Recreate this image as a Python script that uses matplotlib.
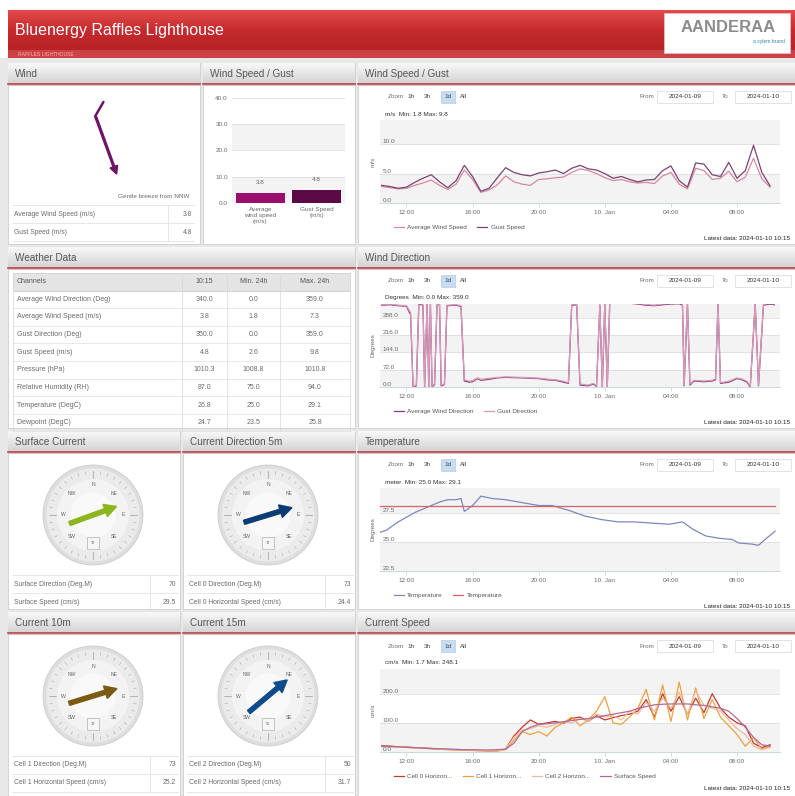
import numpy as np
import matplotlib
matplotlib.use('Agg')
import matplotlib.pyplot as plt
from matplotlib.patches import Rectangle, Circle, FancyArrow
from matplotlib.colors import LinearSegmentedColormap

plt.rcParams['font.family'] = ['Liberation Sans', 'DejaVu Sans']

W, H = 795, 796

# ---------------- data ----------------
# hours counted from 2024-01-09 00:00
half_hours = np.arange(10.5, 34.01, 0.5)

avg_wind_speed = [2.8, 2.6, 2.4, 2.5, 3.0, 3.4, 3.9, 3.0, 2.3, 3.2, 5.6, 4.0,
                  1.8, 2.2, 3.1, 4.6, 3.6, 3.2, 3.0, 4.0, 4.1, 4.3, 4.4, 5.2,
                  5.8, 5.5, 5.0, 4.3, 3.8, 4.0, 3.6, 3.4, 3.5, 3.3, 4.6, 5.2,
                  3.2, 2.4, 5.9, 5.5, 4.0, 4.2, 5.4, 3.6, 4.4, 7.6, 4.1, 2.7]
gust_speed = [3.0, 2.8, 2.5, 2.7, 3.5, 4.2, 4.8, 3.6, 2.6, 3.8, 6.4, 4.5,
              2.0, 2.5, 4.3, 6.0, 5.2, 4.8, 4.6, 5.1, 5.3, 5.6, 5.0, 5.9,
              6.4, 5.8, 5.6, 5.0, 4.2, 4.5, 4.0, 3.6, 3.9, 4.0, 5.5, 6.3,
              3.8, 2.7, 6.8, 6.6, 4.8, 4.5, 6.9, 4.2, 5.5, 9.8, 5.2, 2.9]

dir_time = [10.5, 11.0, 11.5, 12.0, 12.25, 12.4, 12.6, 12.75, 13.0, 13.1, 13.25,
            13.35, 13.45, 13.55, 13.7, 13.85, 14.0, 14.1, 14.3, 14.45, 15.0, 15.3,
            15.5, 15.8, 16.0, 16.3, 16.5, 17.0, 17.5, 18.0, 19.0, 20.0, 20.5, 21.0,
            21.5, 21.8, 22.0, 22.3, 22.5, 23.0, 23.3, 23.5, 23.7, 23.85, 24.0, 24.15,
            24.3, 24.5, 25.0, 25.5, 26.0, 26.5, 27.0, 27.5, 28.0, 28.5, 28.7, 28.8,
            29.0, 29.15, 29.4, 30.0, 30.5, 30.7, 30.85, 31.0, 31.5, 32.0, 32.3, 32.6,
            32.8, 33.1, 33.3, 33.6, 34.0, 34.25]
avg_wind_dir = [340, 342, 338, 336, 300, 0, 5, 345, 340, 0, 350,
                0, 345, 0, 10, 340, 345, 5, 10, 338, 340, 335,
                25, 20, 22, 35, 28, 32, 38, 40, 38, 35, 30, 28,
                20, 15, 340, 342, 8, 5, 12, 3, 340, 0, 345, 0,
                350, 348, 352, 348, 345, 340, 338, 342, 345, 346, 340, 5,
                348, 8, 25, 22, 25, 30, 345, 15, 20, 35, 30, 20,
                0, 345, 5, 340, 345, 342]
gust_dir = [342, 345, 340, 338, 310, 2, 8, 350, 342, 3, 352,
            2, 348, 3, 14, 342, 348, 8, 12, 340, 342, 338,
            30, 24, 26, 38, 32, 36, 40, 42, 40, 37, 33, 30,
            24, 18, 344, 345, 12, 8, 15, 6, 344, 3, 348, 2,
            352, 350, 355, 350, 348, 343, 340, 345, 348, 350, 344, 8,
            352, 12, 28, 25, 28, 34, 348, 18, 24, 38, 33, 24,
            3, 350, 8, 344, 348, 346]

temp_time = [10.4, 10.8, 11.5, 12.5, 13.5, 14.0, 14.5, 15.0, 15.3, 15.5, 15.8, 16.0,
             16.5, 17.2, 18.0, 18.4, 19.2, 20.0, 20.8, 21.8, 22.8, 23.8, 24.8, 25.8,
             26.8, 27.9, 28.7, 29.3, 30.1, 30.9, 31.7, 32.1, 32.9, 33.3, 33.7, 34.3]
temperature = [25.8, 26.0, 26.7, 27.5, 28.1, 28.4, 28.6, 28.6, 28.7, 27.6, 27.9, 28.1,
               28.9, 28.7, 28.6, 28.5, 28.3, 28.1, 28.1, 27.7, 27.2, 26.9, 26.7, 26.7,
               26.6, 26.5, 26.7, 26.1, 25.5, 25.3, 25.2, 24.9, 24.8, 24.7, 25.2, 25.9]
temp_ref_time = [10.4, 34.3]
temp_ref = [28.1, 28.1]

cell0_speed = [22, 20, 18, 17, 15, 14, 12, 10, 9, 8, 7, 6,
               5, 4, 4, 10, 55, 85, 110, 95, 100, 105, 98, 115,
               120, 105, 125, 110, 118, 125, 130, 140, 180, 120, 200, 140,
               190, 130, 185, 135, 200, 150, 120, 100, 90, 30, 15, 25]
cell1_speed = [20, 19, 17, 16, 14, 13, 11, 10, 8, 7, 6, 5,
               4, 4, 3, 8, 40, 70, 60, 70, 55, 85, 100, 120,
               90, 110, 140, 190, 100, 95, 120, 150, 215, 110, 230, 105,
               240, 110, 220, 115, 180, 120, 90, 60, 20, 50, 10, 20]
cell2_speed = [18, 18, 17, 16, 14, 13, 12, 10, 9, 8, 7, 6,
               5, 5, 4, 9, 50, 75, 80, 90, 85, 95, 105, 100,
               115, 105, 130, 120, 125, 110, 140, 130, 170, 140, 185, 150,
               205, 130, 210, 160, 150, 140, 110, 80, 60, 20, 8, 15]
surface_speed = [20, 19, 18, 16, 15, 13, 12, 11, 10, 9, 8, 8,
                 7, 7, 8, 10, 30, 70, 85, 95, 97, 100, 104, 108,
                 112, 115, 120, 125, 130, 135, 140, 150, 156, 162, 164, 165,
                 165, 165, 162, 160, 155, 150, 140, 115, 85, 50, 25, 20]

time_ticks = [12, 16, 20, 24, 28, 32]
time_labels = ['12:00', '16:00', '20:00', '10. Jan', '04:00', '08:00']

bar_labels = ['Average\nwind speed\n(m/s)', 'Gust Speed\n(m/s)']
bar_values = [3.8, 4.8]

weather_header = ['Channels', '10:15', 'Min. 24h', 'Max. 24h']
weather_rows = [
    ['Average Wind Direction (Deg)', '340.0', '0.0', '359.0'],
    ['Average Wind Speed (m/s)', '3.8', '1.8', '7.3'],
    ['Gust Direction (Deg)', '350.0', '0.0', '359.0'],
    ['Gust Speed (m/s)', '4.8', '2.6', '9.8'],
    ['Pressure (hPa)', '1010.3', '1008.8', '1010.8'],
    ['Relative Humidity (RH)', '87.0', '75.0', '94.0'],
    ['Temperature (DegC)', '26.8', '25.0', '29.1'],
    ['Dewpoint (DegC)', '24.7', '23.5', '25.8'],
]

wind_direction_now = 340
gauge_titles = ['Surface Current', 'Current Direction 5m', 'Current 10m', 'Current 15m']
gauge_dirs = [70, 73, 73, 50]
gauge_colors = ['#8db51e', '#0d3b73', '#7b5a12', '#0f4a8a']
gauge_rows = [
    [('Surface Direction (Deg.M)', '70'), ('Surface Speed (cm/s)', '29.5')],
    [('Cell 0 Direction (Deg.M)', '73'), ('Cell 0 Horizontal Speed (cm/s)', '24.4')],
    [('Cell 1 Direction (Deg.M)', '73'), ('Cell 1 Horizontal Speed (cm/s)', '25.2')],
    [('Cell 2 Direction (Deg.M)', '50'), ('Cell 2 Horizontal Speed (cm/s)', '31.7')],
]

TXT = '#6a6a6a'
FS = 4.6

fig = plt.figure(figsize=(W / 100, H / 100), dpi=100)
fig.patch.set_facecolor('white')
bg = fig.add_axes([0, 0, 1, 1])
bg.axis('off')

hdr_cmap = LinearSegmentedColormap.from_list('hdr', ['#f8f8f8', '#d3d3d3'])
red_cmap = LinearSegmentedColormap.from_list('red', ['#e24a4a', '#c62a2e', '#b82327'])
grad = np.linspace(0, 1, 32).reshape(-1, 1)


def fbox(x0, y0, x1, y1):
    return [x0 / W, 1 - y1 / H, (x1 - x0) / W, (y1 - y0) / H]


def panel(x0, y0, x1, y1, title):
    body = Rectangle((x0, y0), x1 - x0, y1 - y0, facecolor='white',
                     edgecolor='#cfcfcf', lw=0.6, zorder=1)
    bg.add_patch(body)
    bg.imshow(grad, cmap=hdr_cmap, extent=(x0, x1, y0 + 21, y0), aspect='auto', zorder=2)
    bg.plot([x0, x1], [y0 + 21, y0 + 21], color='#a8343f', lw=1.1, zorder=3)
    bg.plot([x0, x1], [y0 + 22.3, y0 + 22.3], color='#eab8bd', lw=0.8, zorder=3)
    bg.text(x0 + 7, y0 + 11, title, fontsize=7.2, color='#555555', va='center', zorder=4)
    return body


def range_selector(x0, x1, y):
    bg.text(x0 + 30, y, 'Zoom', fontsize=FS, color=TXT, va='center', zorder=4)
    for lab, dx in zip(['1h', '3h', '1d', 'All'], [53, 69, 90, 105]):
        if lab == '1d':
            bg.add_patch(Rectangle((x0 + dx - 7, y - 6), 14, 12, facecolor='#c9ddf2',
                                   edgecolor='#a8c4e0', lw=0.4, zorder=3))
        bg.text(x0 + dx, y, lab, fontsize=FS, color='#444', ha='center', va='center', zorder=4)
    bg.text(x1 - 155, y, 'From', fontsize=FS, color=TXT, va='center', zorder=4)
    bg.text(x1 - 73, y, 'To', fontsize=FS, color=TXT, va='center', zorder=4)
    for cx, d in [(x1 - 110, '2024-01-09'), (x1 - 32, '2024-01-10')]:
        bg.add_patch(Rectangle((cx - 28, y - 6), 56, 12, facecolor='white',
                               edgecolor='#d8d8d8', lw=0.5, zorder=3))
        bg.text(cx, y, d, fontsize=FS, color='#333', ha='center', va='center', zorder=4)


def time_chart(x0, y0, x1, ylim, yticks, yfmt, ylabel, stat, series, names, colors):
    range_selector(x0, x1, y0 + 34)
    bg.text(x0 + 27, y0 + 51, stat, fontsize=FS, color='#333', va='center', zorder=4)
    ax = fig.add_axes(fbox(x0 + 22, y0 + 57, x0 + 422, y0 + 140))
    ax.patch.set_alpha(0)
    for i in range(0, len(yticks) - 1, 2):
        ax.axhspan(yticks[i], yticks[i + 1], color='#f3f3f3', lw=0, zorder=0)
    for t in yticks:
        ax.axhline(t, color='#dddddd', lw=0.6, zorder=1)
    lines = []
    for (xs, ys), c in zip(series, colors):
        ln, = ax.plot(xs, ys, color=c, lw=0.9, zorder=3)
        lines.append(ln)
    ax.set_xlim(10.4, 34.6)
    ax.set_ylim(*ylim)
    ax.set_yticks([])
    for t in yticks:
        if ylim[0] <= t < ylim[1] - 0.5 * (yticks[1] - yticks[0]) * 0.3:
            ax.text(0.006, t, yfmt.format(t), transform=ax.get_yaxis_transform(),
                    fontsize=FS, color=TXT, va='bottom', ha='left', zorder=4)
    ax.set_xticks(time_ticks)
    ax.set_xticklabels(time_labels)
    ax.tick_params(axis='x', labelsize=FS, colors='#c0d0e0', labelcolor=TXT,
                   length=3, width=0.5, pad=2)
    for s in ['top', 'left', 'right']:
        ax.spines[s].set_visible(False)
    ax.spines['bottom'].set_color('#c0d0e0')
    ax.spines['bottom'].set_linewidth(0.6)
    ax.set_ylabel(ylabel, fontsize=FS, color=TXT, labelpad=3)
    leg = ax.legend(lines, names, loc='center left', bbox_to_anchor=(0.02, -0.29),
                    ncol=len(names), fontsize=FS, frameon=False, handlelength=1.6,
                    columnspacing=1.6, handletextpad=0.5)
    for t in leg.get_texts():
        t.set_color('#555555')
    bg.text(x1 - 5, y0 + 176, 'Latest data: 2024-01-10 10:15', fontsize=FS,
            color='#222', ha='right', va='center', zorder=4)
    return ax


def gauge(cx, cy, r, direction, color):
    bg.add_patch(Circle((cx, cy), r, facecolor='#dedede', edgecolor='#cccccc', lw=0.6, zorder=2))
    bg.add_patch(Circle((cx, cy), r * 0.93, facecolor='#ebebeb', edgecolor='none', zorder=2))
    bg.add_patch(Circle((cx, cy), r * 0.72, facecolor='#f3f3f3', edgecolor='none', zorder=2))
    bg.add_patch(Circle((cx, cy), r * 0.45, facecolor='#f9f9f9', edgecolor='none', zorder=2))
    for a in range(0, 360, 10):
        rad = np.radians(a)
        r_in = 0.74 if a % 45 == 0 else 0.82
        bg.plot([cx + r_in * r * np.sin(rad), cx + 0.88 * r * np.sin(rad)],
                [cy - r_in * r * np.cos(rad), cy - 0.88 * r * np.cos(rad)],
                color='#9a9a9a', lw=0.5 if a % 45 == 0 else 0.3, zorder=3)
    for a, lab in zip([0, 45, 90, 135, 225, 270, 315], ['N', 'NE', 'E', 'SE', 'SW', 'W', 'NW']):
        rad = np.radians(a)
        bg.text(cx + 0.6 * r * np.sin(rad), cy - 0.6 * r * np.cos(rad), lab,
                fontsize=3.6, color='#666', ha='center', va='center', zorder=4)
    bg.add_patch(Rectangle((cx - 6, cy + 0.56 * r - 6), 12, 12, facecolor='#f6f6f6',
                           edgecolor='#b0b0b0', lw=0.5, zorder=3))
    bg.text(cx, cy + 0.56 * r, '%d' % direction, fontsize=2.8, color='#666',
            ha='center', va='center', zorder=4)
    rad = np.radians(direction)
    ux, uy = np.sin(rad), -np.cos(rad)
    L = 0.5 * r
    bg.add_patch(FancyArrow(cx - L * ux, cy - L * uy, 2 * L * ux, 2 * L * uy, width=4.2,
                            head_width=13, head_length=12, length_includes_head=True,
                            color=color, zorder=5))


def info_rows(x0, x1, y_top, rows, sep, clip):
    for i, (lab, val) in enumerate(rows):
        yc = y_top + 9 + 18 * i
        bg.plot([x0 + 4, x1 - 2], [y_top + 18 * i, y_top + 18 * i], color='#e2e2e2', lw=0.6, zorder=3)
        bg.text(x0 + 6, yc, lab, fontsize=FS + 0.3, color=TXT, va='center', zorder=4)
        t = bg.text(x1 - 4, yc, val, fontsize=FS + 0.3, color=TXT, va='center', ha='right', zorder=4)
        t.set_clip_path(clip)
    bg.plot([x0 + 4, x1 - 2], [y_top + 18 * len(rows)] * 2, color='#e2e2e2', lw=0.6, zorder=3)
    bg.plot([sep, sep], [y_top, y_top + 18 * len(rows)], color='#e2e2e2', lw=0.6, zorder=3)


# page background and header
bg.add_patch(Rectangle((0, 58), W, H - 58, facecolor='#e8e8e8', edgecolor='none', zorder=0))
bg.imshow(grad, cmap=red_cmap, extent=(8, W, 50, 10), aspect='auto', zorder=1)
bg.add_patch(Rectangle((8, 50), W - 8, 8, facecolor='#cc4244', edgecolor='none', zorder=1))
bg.text(15, 30, 'Bluenergy Raffles Lighthouse', fontsize=11.5, color='white', va='center', zorder=4)
bg.text(18, 54, 'RAFFLES LIGHTHOUSE', fontsize=3.6, color='#f2b4b4', va='center', zorder=4)
bg.add_patch(Rectangle((664, 13), 126, 40, facecolor='white', edgecolor='#e0c0c0', lw=0.6, zorder=3))
bg.text(728, 27, 'AANDERAA', fontsize=12, color='#8c8c8c', ha='center', va='center',
        fontweight='bold', zorder=4)
bg.text(785, 42, 'a xylem brand', fontsize=3.6, color='#2a8aa0', ha='right', va='center', zorder=4)

# ---------------- row 1 ----------------
wind_panel = panel(8, 63, 200, 244, 'Wind')
to_dir = np.radians(wind_direction_now - 180)
vx, vy = np.sin(to_dir), -np.cos(to_dir)
acx, acy, alen = 106, 145, 62
tail = (acx - alen / 2 * vx, acy - alen / 2 * vy)
bg.add_patch(FancyArrow(tail[0], tail[1], alen * vx, alen * vy, width=1.8, head_width=8,
                        head_length=8, length_includes_head=True, color='#6e1466', zorder=5))
barb = np.radians(50)
rx, ry = -vx, -vy
bx = rx * np.cos(barb) - ry * np.sin(barb)
by = rx * np.sin(barb) + ry * np.cos(barb)
bg.plot([tail[0], tail[0] + 16 * bx], [tail[1], tail[1] + 16 * by], color='#6e1466', lw=1.8,
        solid_capstyle='round', zorder=5)
bg.text(190, 196, 'Gentle breeze from NNW', fontsize=FS, color=TXT, ha='right', va='center', zorder=4)
info_rows(8, 196, 205, [('Average Wind Speed (m/s)', '%.1f' % bar_values[0]),
                        ('Gust Speed (m/s)', '%.1f' % bar_values[1])], 168, wind_panel)

panel(203, 63, 355, 244, 'Wind Speed / Gust')
axb = fig.add_axes(fbox(232, 95, 345, 203))
axb.patch.set_alpha(0)
bar_ticks = [0, 10, 20, 30, 40]
for i in range(0, len(bar_ticks) - 1, 2):
    axb.axhspan(bar_ticks[i], bar_ticks[i + 1], color='#f3f3f3', lw=0, zorder=0)
for t in bar_ticks:
    axb.axhline(t, color='#dddddd', lw=0.6, zorder=1)
bars = axb.bar([0, 1], bar_values, width=0.86, color=['#9c0e6e', '#5c0a45'], zorder=3)
for b, v in zip(bars, bar_values):
    axb.text(b.get_x() + b.get_width() / 2, v + 3.2, '%.1f' % v, fontsize=FS,
             color=TXT, ha='center', va='bottom')
axb.set_xlim(-0.5, 1.5)
axb.set_ylim(0, 41)
axb.set_yticks(bar_ticks)
axb.set_yticklabels(['%.1f' % t for t in bar_ticks])
axb.set_xticks([0, 1])
axb.set_xticklabels(bar_labels, linespacing=1.2)
axb.tick_params(labelsize=FS, colors=TXT, length=0, pad=3)
for s in axb.spines.values():
    s.set_visible(False)

panel(358, 63, 795, 244, 'Wind Speed / Gust')
time_chart(358, 63, 795, (0, 14.1), [0, 5, 10, 15], '{:.1f}', 'm/s',
           'm/s  Min: 1.8 Max: 9.8',
           [(half_hours, avg_wind_speed), (half_hours, gust_speed)],
           ['Average Wind Speed', 'Gust Speed'], ['#d4899a', '#7a4474'])

# ---------------- row 2 ----------------
table_panel = panel(8, 247, 355, 428, 'Weather Data')
col_x = [13, 182, 227, 280, 350]
ty = 273
rh = 17.6
bg.add_patch(Rectangle((col_x[0], ty), col_x[-1] - col_x[0], rh, facecolor='#e4e4e4',
                       edgecolor='#c8c8c8', lw=0.5, zorder=3))
for j, h in enumerate(weather_header):
    if j == 0:
        bg.text(col_x[0] + 4, ty + rh / 2, h, fontsize=FS + 0.4, color='#555', va='center', zorder=4)
    else:
        bg.text((col_x[j] + col_x[j + 1]) / 2, ty + rh / 2, h, fontsize=FS + 0.4, color='#555',
                ha='center', va='center', zorder=4)
for i, row in enumerate(weather_rows):
    y = ty + rh * (i + 1)
    bg.plot([col_x[0], col_x[-1]], [y + rh, y + rh], color='#e0e0e0', lw=0.5, zorder=3)
    for j, cell in enumerate(row):
        if j == 0:
            bg.text(col_x[0] + 4, y + rh / 2, cell, fontsize=FS + 0.4, color=TXT, va='center', zorder=4)
        else:
            bg.text((col_x[j] + col_x[j + 1]) / 2, y + rh / 2, cell, fontsize=FS + 0.4, color=TXT,
                    ha='center', va='center', zorder=4)
for x in col_x:
    bg.plot([x, x], [ty, ty + rh * (len(weather_rows) + 1)], color='#d8d8d8', lw=0.5, zorder=3)

panel(358, 247, 795, 428, 'Wind Direction')
time_chart(358, 247, 795, (0, 345), [0, 72, 144, 216, 288, 360], '{:.1f}', 'Degrees',
           'Degrees  Min: 0.0 Max: 359.0',
           [(dir_time, avg_wind_dir), (dir_time, gust_dir)],
           ['Average Wind Direction', 'Gust Direction'], ['#8a3a7c', '#d89ab8'])

# ---------------- rows 3 and 4 ----------------
gauge_boxes = [(8, 431, 180, 609), (183, 431, 355, 609), (8, 612, 180, 796), (183, 612, 355, 796)]
for (x0, y0, x1, y1), title, d, c, rows in zip(gauge_boxes, gauge_titles, gauge_dirs,
                                                gauge_colors, gauge_rows):
    body = panel(x0, y0, x1, y1, title)
    gauge(x0 + 85, y0 + 84, 50, d, c)
    info_rows(x0, x1, y0 + 144, rows, x1 - 30, body)

panel(358, 431, 795, 609, 'Temperature')
time_chart(358, 431, 795, (22.5, 29.6), [22.5, 25.0, 27.5, 30.0], '{:.1f}', 'Degrees',
           'meter  Min: 25.0 Max: 29.1',
           [(temp_time, temperature), (temp_ref_time, temp_ref)],
           ['Temperature', 'Temperature'], ['#7c88bc', '#d9606a'])

panel(358, 612, 795, 796, 'Current Speed')
time_chart(358, 612, 795, (0, 285), [0, 100, 200, 300], '{:.1f}', 'cm/s',
           'cm/s  Min: 1.7 Max: 248.1',
           [(half_hours, cell0_speed), (half_hours, cell1_speed),
            (half_hours, cell2_speed), (half_hours, surface_speed)],
           ['Cell 0 Horizon...', 'Cell 1 Horizon...', 'Cell 2 Horizon...', 'Surface Speed'],
           ['#c0392b', '#f0a040', '#eebc9c', '#b06a9a'])

bg.set_xlim(0, W)
bg.set_ylim(H, 0)

fig.savefig('out.png', dpi=100, facecolor=fig.get_facecolor())
